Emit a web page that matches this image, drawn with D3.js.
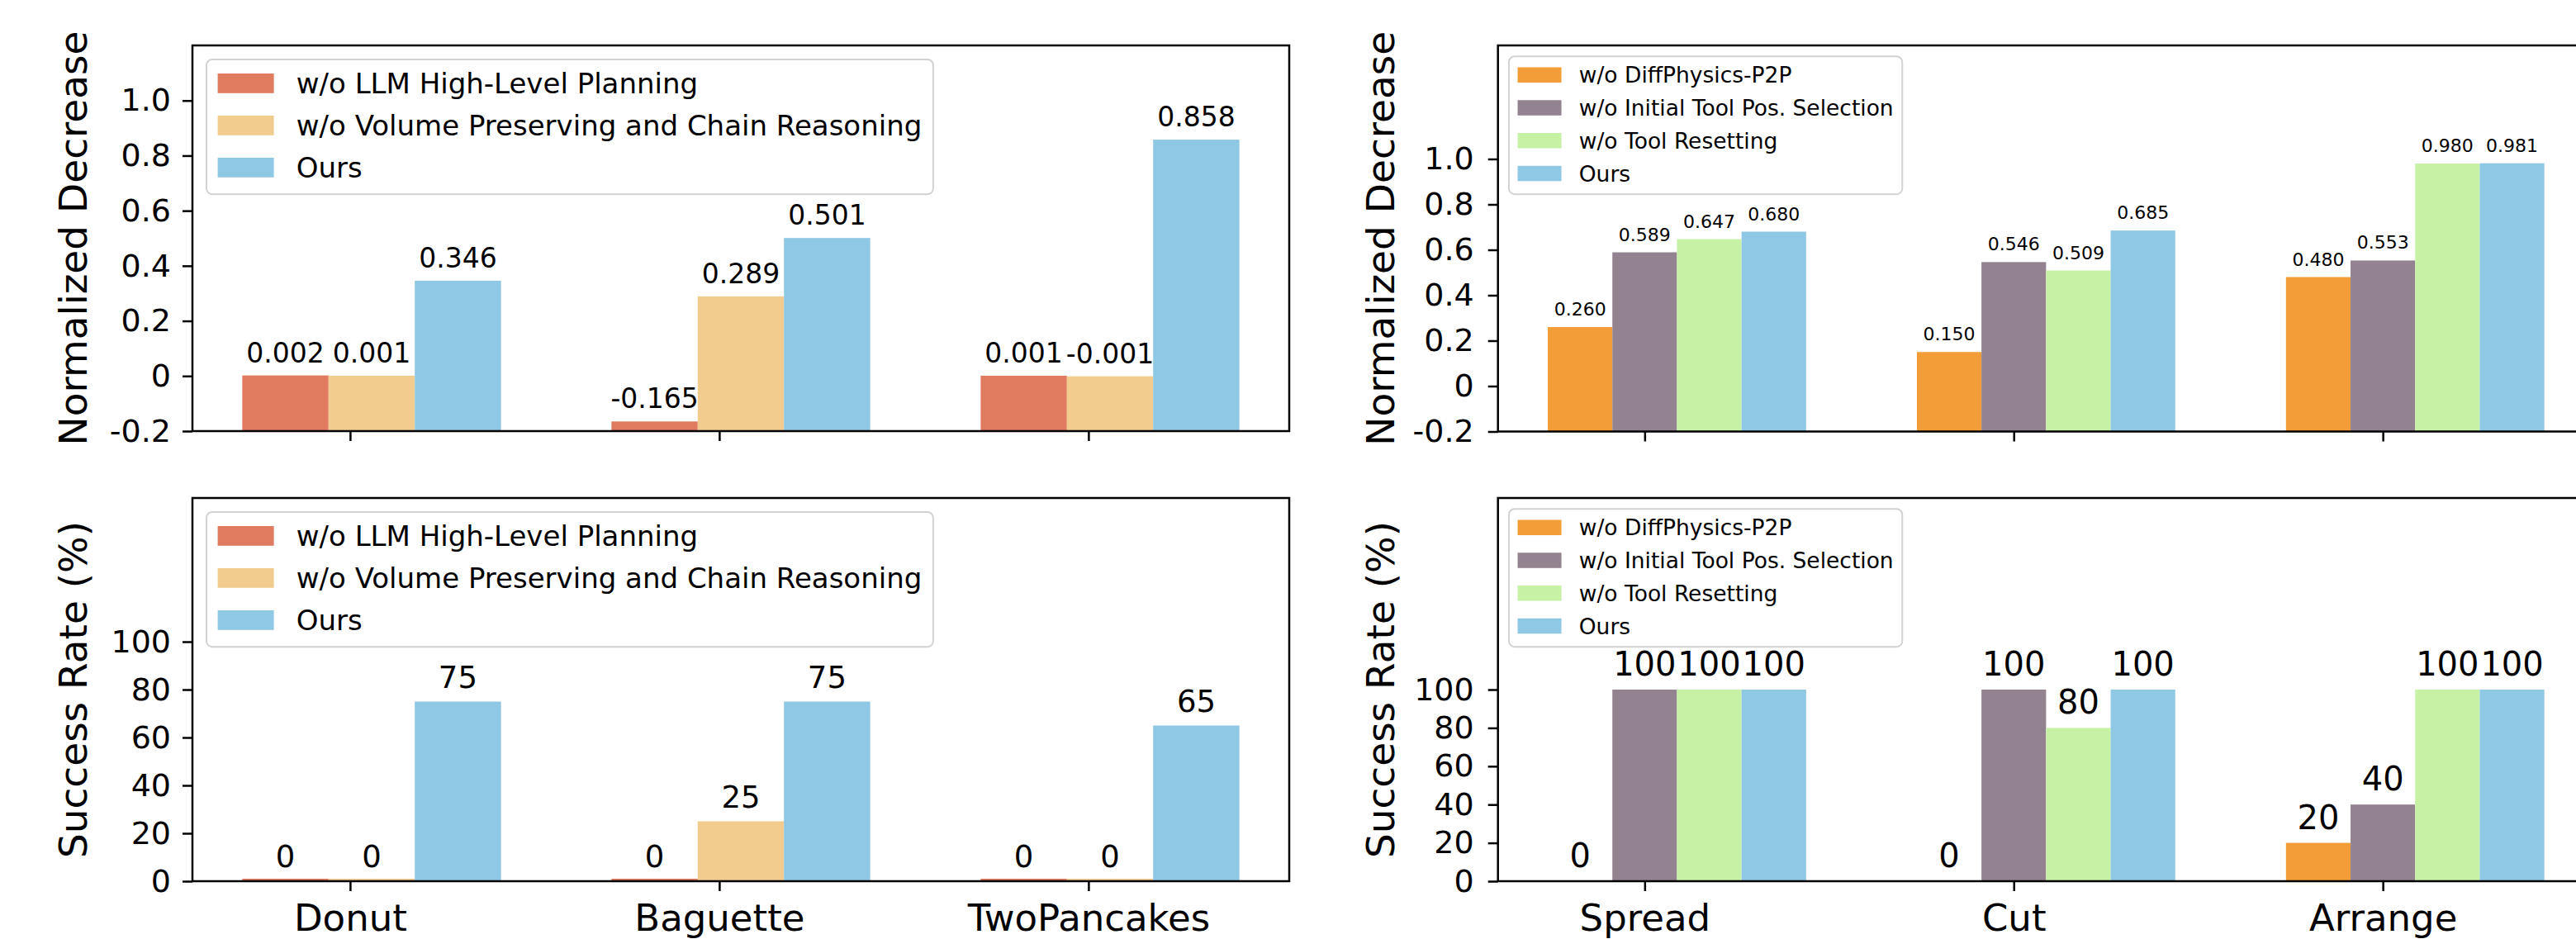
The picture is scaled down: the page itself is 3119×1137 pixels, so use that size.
<!DOCTYPE html>
<html>
<head>
<meta charset="utf-8">
<script src="https://cdn.jsdelivr.net/npm/d3@7"></script>
<style>
  body { margin: 0; background: #fff; }
  text { font-family: "DejaVu Sans", sans-serif; fill: #000; }
</style>
</head>
<body>
<script>
// categories
var leftTasks = ["Donut", "Baguette", "TwoPancakes"];
var rightTasks = ["Spread", "Cut", "Arrange"];

// series names
var leftMethods = ["w/o LLM High-Level Planning", "w/o Volume Preserving and Chain Reasoning", "Ours"];
var rightMethods = ["w/o DiffPhysics-P2P", "w/o Initial Tool Pos. Selection", "w/o Tool Resetting", "Ours"];

// values, one row per method, one entry per task
var leftDecrease = [[0.002, -0.165, 0.001], [0.001, 0.289, -0.001], [0.346, 0.501, 0.858]];
var rightDecrease = [[0.260, 0.150, 0.480], [0.589, 0.546, 0.553], [0.647, 0.509, 0.980], [0.680, 0.685, 0.981]];
var leftSuccess = [[0, 0, 0], [0, 25, 0], [75, 75, 65]];
var rightSuccess = [[0, 0, 20], [100, 100, 40], [100, 80, 100], [100, 100, 100]];

// tick values
var decreaseTicks = [-0.2, 0, 0.2, 0.4, 0.6, 0.8, 1.0];
var successTicks = [0, 20, 40, 60, 80, 100];

var leftColors = ["#e07b5f", "#f2cb8e", "#8fc8e4"];
var rightColors = ["#f29d37", "#938290", "#c7f1a5", "#8fc8e4"];

var svg_width = 3119, svg_height = 1137;
var svg = d3.select('body').append('svg').attr('width', svg_width).attr('height', svg_height);

var loc = d3.formatLocale({decimal: ".", thousands: ",", grouping: [3], currency: ["", ""], minus: "-"});
var f3 = loc.format(".3f"), f1 = loc.format(".1f"), f0 = loc.format("d");
var decFmt = d => d === 0 ? "0" : f1(d);

var panels = [
    {tasks: leftTasks, methods: leftMethods, colors: leftColors, values: leftDecrease, valFmt: f3,
     xr: [233, 1561], yr: [522, 55], ylim: [-0.2, 1.2], ticks: decreaseTicks, tickFmt: decFmt,
     barW: 0.2336, lead: 1.25, labelSize: 33, gap: 16, legendSize: 34, tickPad: 14,
     ylabel: "Normalized Decrease", ylabelX: 105, xlabels: false, stub: 0},
    {tasks: rightTasks, methods: rightMethods, colors: rightColors, values: rightDecrease, valFmt: f3,
     xr: [1813.7, 3141], yr: [522.5, 55], ylim: [-0.2, 1.5], ticks: decreaseTicks, tickFmt: decFmt,
     barW: 0.175, lead: 1.5, labelSize: 22, gap: 14, legendSize: 26.5, tickPad: 17,
     ylabel: "Normalized Decrease", ylabelX: 1688, xlabels: false, stub: 0},
    {tasks: leftTasks, methods: leftMethods, colors: leftColors, values: leftSuccess, valFmt: f0,
     xr: [233, 1561], yr: [1067, 603], ylim: [0, 160], ticks: successTicks, tickFmt: f0,
     barW: 0.2336, lead: 1.25, labelSize: 37, gap: 17, legendSize: 34, tickPad: 14,
     ylabel: "Success Rate (%)", ylabelX: 105, xlabels: true, stub: 3},
    {tasks: rightTasks, methods: rightMethods, colors: rightColors, values: rightSuccess, valFmt: f0,
     xr: [1813.7, 3141], yr: [1067, 603], ylim: [0, 200], ticks: successTicks, tickFmt: f0,
     barW: 0.175, lead: 1.5, labelSize: 40, gap: 17, legendSize: 26.5, tickPad: 17,
     ylabel: "Success Rate (%)", ylabelX: 1688, xlabels: true, stub: 0}
];

panels.forEach(p => {
    var g = svg.append('g');
    var n = p.methods.length;
    var first = -p.lead * p.barW;
    var lo = first, hi = (p.tasks.length - 1) + first + n * p.barW;
    var m = 0.05 * (hi - lo);
    var x = d3.scaleLinear().domain([lo - m, hi + m]).range(p.xr);
    var y = d3.scaleLinear().domain(p.ylim).range(p.yr);
    var base = y(p.ylim[0]);

    // bars + value labels
    p.values.forEach((row, s) => {
        var bars = g.append('g');
        bars.selectAll('rect').data(row).enter().append('rect')
            .attr('x', (d, i) => x(i + first + s * p.barW))
            .attr('width', x(p.barW) - x(0))
            .attr('y', d => Math.min(y(d), base - p.stub))
            .attr('height', d => Math.max(base - y(d), p.stub))
            .attr('fill', p.colors[s]);
        bars.selectAll('text').data(row).enter().append('text')
            .attr('x', (d, i) => x(i + first + (s + 0.5) * p.barW))
            .attr('y', d => y(d) - p.gap)
            .attr('text-anchor', 'middle')
            .style('font-size', p.labelSize + 'px')
            .text(d => p.valFmt(d));
    });

    // y axis
    var yAxis = g.append('g').attr('transform', 'translate(' + p.xr[0] + ',0)')
        .call(d3.axisLeft(y).tickValues(p.ticks).tickFormat(p.tickFmt).tickSize(12).tickPadding(p.tickPad).tickSizeOuter(0));
    yAxis.select('.domain').remove();
    yAxis.selectAll('line').attr('stroke', '#000').attr('stroke-width', 2.5);
    yAxis.selectAll('text').style('font-size', '38px').attr('fill', '#000');

    // x axis
    var xAxis = g.append('g').attr('transform', 'translate(0,' + p.yr[0] + ')')
        .call(d3.axisBottom(x).tickValues(d3.range(p.tasks.length)).tickFormat(i => p.xlabels ? p.tasks[i] : "")
            .tickSize(12).tickPadding(16).tickSizeOuter(0));
    xAxis.select('.domain').remove();
    xAxis.selectAll('line').attr('stroke', '#000').attr('stroke-width', 2.5);
    xAxis.selectAll('text').style('font-size', '45px').attr('fill', '#000');

    // frame
    g.append('rect')
        .attr('x', p.xr[0]).attr('y', p.yr[1])
        .attr('width', p.xr[1] - p.xr[0]).attr('height', p.yr[0] - p.yr[1])
        .attr('fill', 'none').attr('stroke', '#000').attr('stroke-width', 2.5);

    // y label
    g.append('text')
        .attr('transform', 'translate(' + p.ylabelX + ',' + ((p.yr[0] + p.yr[1]) / 2) + ') rotate(-90)')
        .attr('text-anchor', 'middle')
        .style('font-size', '47px')
        .text(p.ylabel);

    // legend
    var fs = p.legendSize;
    var lx = p.xr[0] + 0.5 * fs, ly = p.yr[1] + 0.5 * fs;
    var leg = g.append('g');
    var box = leg.append('rect').attr('x', lx).attr('y', ly).attr('rx', 7)
        .attr('fill', '#fff').attr('fill-opacity', 0.85).attr('stroke', '#d2d2d2').attr('stroke-width', 2);
    var rowY = i => ly + 0.85 * fs + i * 1.5 * fs;
    var maxW = 0;
    p.methods.forEach((name, i) => {
        leg.append('rect').attr('x', lx + 0.4 * fs).attr('y', rowY(i) - 0.35 * fs)
            .attr('width', 2 * fs).attr('height', 0.7 * fs).attr('fill', p.colors[i]);
        var t = leg.append('text').attr('x', lx + 3.2 * fs).attr('y', rowY(i)).attr('dy', '0.36em')
            .style('font-size', fs + 'px').text(name);
        maxW = Math.max(maxW, t.node().getComputedTextLength());
    });
    box.attr('width', 3.2 * fs + maxW + 0.4 * fs)
        .attr('height', rowY(n - 1) - ly + 0.95 * fs);
});
</script>
</body>
</html>
